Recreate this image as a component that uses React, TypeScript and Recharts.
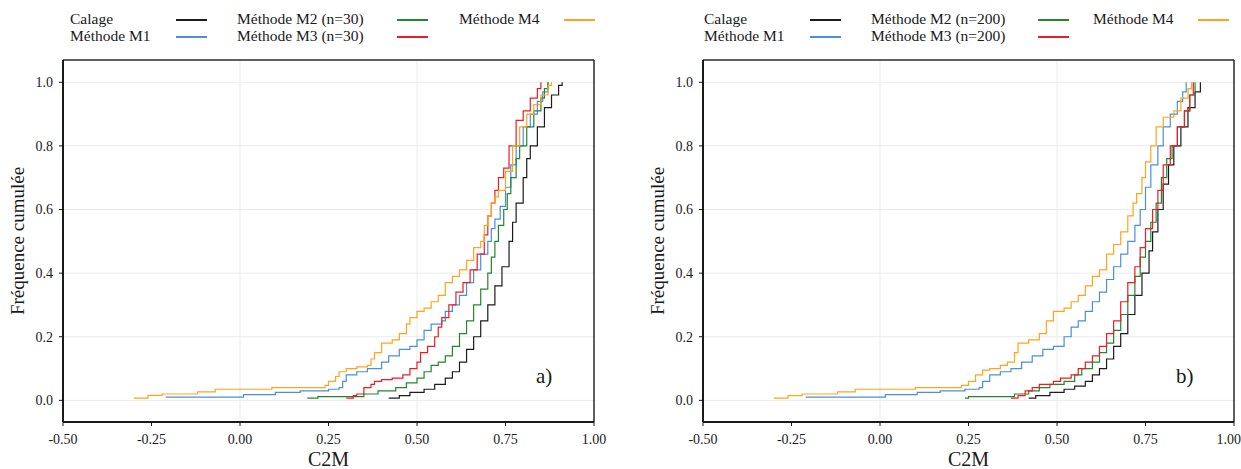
import React from "react";
import { LineChart, Line, XAxis, YAxis, ReferenceLine } from "recharts";

const FONT = "'Liberation Serif', Tinos, 'Nimbus Roman', 'Noto Serif', 'DejaVu Serif', serif";

const X_TICKS = [-0.5, -0.25, 0, 0.25, 0.5, 0.75, 1];
const Y_TICKS = [0, 0.2, 0.4, 0.6, 0.8, 1];
const X_GRID = [0, 0.5];
const X_DOMAIN = [-0.5, 1];
const Y_DOMAIN = [-0.068, 1.07];

// panel a) — n=30
const calageA = [
  [0.42, 0.007], [0.45, 0.015], [0.48, 0.025], [0.52, 0.035], [0.55, 0.05], [0.58, 0.07],
  [0.6, 0.09], [0.62, 0.12], [0.64, 0.16], [0.66, 0.2], [0.68, 0.25], [0.7, 0.3],
  [0.72, 0.36], [0.74, 0.42], [0.76, 0.5], [0.77, 0.56], [0.78, 0.62], [0.8, 0.7],
  [0.81, 0.76], [0.82, 0.8], [0.84, 0.86], [0.86, 0.92], [0.88, 0.96], [0.9, 0.99], [0.91, 1.0],
];
const m1A = [
  [-0.21, 0.01], [0.01, 0.018], [0.1, 0.025], [0.17, 0.03], [0.25, 0.035], [0.28, 0.04],
  [0.29, 0.06], [0.3, 0.08], [0.33, 0.09], [0.36, 0.1], [0.4, 0.12], [0.42, 0.14],
  [0.45, 0.16], [0.48, 0.17], [0.5, 0.19], [0.52, 0.22], [0.54, 0.24], [0.57, 0.25],
  [0.58, 0.28], [0.6, 0.3], [0.62, 0.33], [0.64, 0.37], [0.66, 0.41], [0.68, 0.46],
  [0.7, 0.5], [0.71, 0.54], [0.72, 0.57], [0.735, 0.61], [0.75, 0.67], [0.765, 0.74],
  [0.78, 0.8], [0.8, 0.86], [0.82, 0.9], [0.84, 0.94], [0.855, 0.97], [0.87, 1.0],
];
const m2A = [
  [0.19, 0.007], [0.22, 0.012], [0.35, 0.02], [0.39, 0.03], [0.44, 0.04], [0.47, 0.055],
  [0.5, 0.07], [0.52, 0.09], [0.54, 0.11], [0.56, 0.12], [0.58, 0.14], [0.6, 0.17],
  [0.62, 0.21], [0.64, 0.25], [0.66, 0.3], [0.68, 0.35], [0.7, 0.4], [0.71, 0.45],
  [0.72, 0.5], [0.73, 0.55], [0.745, 0.6], [0.755, 0.65], [0.765, 0.7], [0.78, 0.76],
  [0.79, 0.8], [0.81, 0.86], [0.83, 0.91], [0.85, 0.95], [0.86, 0.98], [0.87, 1.0],
];
const m3A = [
  [0.3, 0.007], [0.32, 0.015], [0.33, 0.02], [0.35, 0.04], [0.37, 0.05], [0.38, 0.06],
  [0.4, 0.065], [0.43, 0.07], [0.46, 0.08], [0.48, 0.1], [0.5, 0.12], [0.51, 0.15],
  [0.53, 0.17], [0.55, 0.2], [0.56, 0.23], [0.57, 0.26], [0.59, 0.3], [0.61, 0.34],
  [0.63, 0.37], [0.65, 0.41], [0.67, 0.46], [0.69, 0.52], [0.7, 0.58], [0.71, 0.62],
  [0.72, 0.66], [0.73, 0.7], [0.745, 0.73], [0.76, 0.8], [0.78, 0.88], [0.8, 0.91],
  [0.82, 0.95], [0.84, 0.98], [0.85, 1.0],
];
const m4A = [
  [-0.3, 0.007], [-0.26, 0.016], [-0.22, 0.02], [-0.12, 0.027], [-0.07, 0.035], [0.09, 0.04],
  [0.24, 0.047], [0.25, 0.06], [0.27, 0.075], [0.28, 0.09], [0.3, 0.1], [0.33, 0.105],
  [0.36, 0.11], [0.37, 0.13], [0.38, 0.15], [0.4, 0.18], [0.43, 0.19], [0.45, 0.21],
  [0.47, 0.24], [0.48, 0.26], [0.5, 0.28], [0.52, 0.29], [0.54, 0.31], [0.56, 0.33],
  [0.58, 0.37], [0.6, 0.39], [0.62, 0.41], [0.64, 0.44], [0.66, 0.48], [0.68, 0.5],
  [0.69, 0.55], [0.7, 0.58], [0.71, 0.62], [0.72, 0.64], [0.73, 0.66], [0.75, 0.72],
  [0.77, 0.8], [0.79, 0.86], [0.81, 0.9], [0.83, 0.93], [0.85, 0.96], [0.87, 0.99], [0.88, 1.0],
];

// panel b) — n=200
const calageB = [
  [0.42, 0.007], [0.44, 0.015], [0.48, 0.025], [0.52, 0.035], [0.55, 0.045], [0.58, 0.06],
  [0.6, 0.08], [0.62, 0.1], [0.64, 0.13], [0.66, 0.17], [0.68, 0.21], [0.7, 0.27],
  [0.72, 0.33], [0.74, 0.4], [0.76, 0.47], [0.77, 0.53], [0.785, 0.6], [0.8, 0.68],
  [0.815, 0.74], [0.83, 0.8], [0.85, 0.86], [0.87, 0.92], [0.89, 0.97], [0.905, 1.0],
];
const m1B = [
  [-0.21, 0.01], [0.015, 0.018], [0.105, 0.025], [0.17, 0.03], [0.24, 0.035], [0.28, 0.04],
  [0.29, 0.06], [0.31, 0.08], [0.34, 0.09], [0.37, 0.1], [0.4, 0.12], [0.43, 0.14],
  [0.46, 0.16], [0.49, 0.17], [0.52, 0.2], [0.54, 0.23], [0.56, 0.25], [0.58, 0.28],
  [0.6, 0.31], [0.62, 0.34], [0.64, 0.38], [0.66, 0.42], [0.68, 0.46], [0.7, 0.5],
  [0.72, 0.55], [0.735, 0.6], [0.75, 0.67], [0.765, 0.74], [0.785, 0.8], [0.8, 0.86],
  [0.82, 0.9], [0.84, 0.94], [0.855, 0.97], [0.865, 1.0],
];
const m2B = [
  [0.24, 0.007], [0.25, 0.012], [0.38, 0.02], [0.42, 0.03], [0.45, 0.04], [0.48, 0.05],
  [0.52, 0.06], [0.55, 0.08], [0.57, 0.1], [0.6, 0.12], [0.62, 0.15], [0.64, 0.18],
  [0.66, 0.22], [0.68, 0.27], [0.7, 0.33], [0.72, 0.39], [0.735, 0.45], [0.75, 0.5],
  [0.765, 0.56], [0.78, 0.62], [0.795, 0.7], [0.81, 0.76], [0.825, 0.8], [0.84, 0.86],
  [0.86, 0.91], [0.875, 0.96], [0.89, 1.0],
];
const m3B = [
  [0.37, 0.007], [0.39, 0.015], [0.41, 0.03], [0.43, 0.04], [0.45, 0.05], [0.49, 0.06],
  [0.51, 0.07], [0.54, 0.08], [0.56, 0.1], [0.58, 0.12], [0.6, 0.14], [0.62, 0.17],
  [0.64, 0.21], [0.66, 0.25], [0.68, 0.31], [0.7, 0.37], [0.72, 0.42], [0.735, 0.48],
  [0.75, 0.54], [0.77, 0.6], [0.785, 0.66], [0.8, 0.74], [0.82, 0.8], [0.84, 0.86],
  [0.86, 0.91], [0.875, 0.96], [0.885, 1.0],
];
const m4B = [
  [-0.3, 0.007], [-0.26, 0.015], [-0.22, 0.02], [-0.12, 0.027], [-0.07, 0.035], [0.1, 0.04],
  [0.23, 0.047], [0.25, 0.06], [0.27, 0.08], [0.29, 0.095], [0.31, 0.1], [0.34, 0.11],
  [0.36, 0.12], [0.38, 0.15], [0.39, 0.18], [0.42, 0.19], [0.45, 0.21], [0.47, 0.25],
  [0.49, 0.28], [0.52, 0.29], [0.54, 0.31], [0.56, 0.33], [0.58, 0.36], [0.6, 0.39],
  [0.62, 0.41], [0.64, 0.46], [0.66, 0.49], [0.68, 0.53], [0.7, 0.58], [0.715, 0.62],
  [0.725, 0.65], [0.74, 0.7], [0.75, 0.75], [0.765, 0.8], [0.78, 0.86], [0.8, 0.89],
  [0.83, 0.91], [0.85, 0.95], [0.87, 0.98], [0.88, 1.0],
];

const COLORS = {
  calage: "#1c1c1c",
  m1: "#4a8fdc",
  m2: "#23862f",
  m3: "#ee1c25",
  m4: "#ffa41c",
};

const toPts = (arr: number[][]) => arr.map(([x, y]) => ({ x, y }));

const GRID = "#ebebeb";
const INK = "#1a1a1a";

function Panel({ series, left, width, tag }: any) {
  return (
    <div style={{ position: "absolute", left, top: 0 }}>
      <LineChart width={width} height={469} margin={{ top: 60, right: width - 594, bottom: 0, left: 0 }}>
        {Y_TICKS.map((v) => (
          <ReferenceLine key={"gy" + v} y={v} stroke={GRID} strokeWidth={1} />
        ))}
        {X_GRID.map((v) => (
          <ReferenceLine key={"gx" + v} x={v} stroke={GRID} strokeWidth={1} />
        ))}
        <XAxis
          type="number"
          dataKey="x"
          domain={X_DOMAIN}
          ticks={X_TICKS}
          allowDataOverflow
          height={47}
          tickSize={4}
          tickMargin={8}
          tickFormatter={(v) => Number(v).toFixed(2)}
          axisLine={{ stroke: INK, strokeWidth: 2 }}
          tickLine={{ stroke: INK }}
          tick={{ fontSize: 14, fill: INK, fontFamily: FONT }}
        />
        <YAxis
          type="number"
          domain={Y_DOMAIN}
          ticks={Y_TICKS}
          allowDataOverflow
          width={63}
          tickSize={4}
          tickMargin={6}
          tickFormatter={(v) => Number(v).toFixed(1)}
          axisLine={{ stroke: INK, strokeWidth: 2 }}
          tickLine={{ stroke: INK }}
          tick={{ fontSize: 14, fill: INK, fontFamily: FONT }}
        />
        <ReferenceLine y={Y_DOMAIN[1]} stroke="#2a2a2a" strokeWidth={1.5} />
        <ReferenceLine x={X_DOMAIN[1]} stroke="#2a2a2a" strokeWidth={1.5} />
        {series.map((s: any) => (
          <Line
            key={s.name}
            data={toPts(s.data)}
            dataKey="y"
            type="stepAfter"
            stroke={s.color}
            strokeWidth={1.2}
            dot={false}
            activeDot={false}
            isAnimationActive={false}
          />
        ))}
      </LineChart>
      <div
        style={{
          position: "absolute",
          left: 536,
          top: 364,
          fontFamily: FONT,
          fontSize: 21,
          color: INK,
        }}
      >
        {tag}
      </div>
      <div
        style={{
          position: "absolute",
          left: 63,
          width: 531,
          top: 448,
          textAlign: "center",
          fontFamily: FONT,
          fontSize: 20,
          color: INK,
        }}
      >
        C2M
      </div>
      <div
        style={{
          position: "absolute",
          left: 18,
          top: 241,
          transform: "translate(-50%, -50%) rotate(-90deg)",
          whiteSpace: "nowrap",
          fontFamily: FONT,
          fontSize: 19,
          color: INK,
        }}
      >
        Fréquence cumulée
      </div>
    </div>
  );
}

function LegendItem({ x, y, label, color, lineX }: any) {
  return (
    <>
      <div
        style={{
          position: "absolute",
          left: x,
          top: y - 10,
          fontFamily: FONT,
          fontSize: 15.5,
          lineHeight: "18px",
          color: INK,
          whiteSpace: "nowrap",
        }}
      >
        {label}
      </div>
      <div style={{ position: "absolute", left: lineX, top: y - 1, width: 31, height: 2, background: color }} />
    </>
  );
}

function Legend({ offset, n }: any) {
  const o = offset;
  const shift = n === 200 ? 7 : 0;
  return (
    <>
      <LegendItem x={o + 70} y={20} label="Calage" color={COLORS.calage} lineX={o + 176} />
      <LegendItem x={o + 70} y={37} label="Méthode M1" color={COLORS.m1} lineX={o + 176} />
      <LegendItem x={o + 237} y={20} label={`Méthode M2 (n=${n})`} color={COLORS.m2} lineX={o + 397 + shift} />
      <LegendItem x={o + 237} y={37} label={`Méthode M3 (n=${n})`} color={COLORS.m3} lineX={o + 397 + shift} />
      <LegendItem x={o + 459} y={20} label="Méthode M4" color={COLORS.m4} lineX={o + 564} />
    </>
  );
}

export default function App() {
  const seriesA = [
    { name: "Calage", data: calageA, color: COLORS.calage },
    { name: "M1", data: m1A, color: COLORS.m1 },
    { name: "M2", data: m2A, color: COLORS.m2 },
    { name: "M3", data: m3A, color: COLORS.m3 },
    { name: "M4", data: m4A, color: COLORS.m4 },
  ];
  const seriesB = [
    { name: "Calage", data: calageB, color: COLORS.calage },
    { name: "M1", data: m1B, color: COLORS.m1 },
    { name: "M2", data: m2B, color: COLORS.m2 },
    { name: "M3", data: m3B, color: COLORS.m3 },
    { name: "M4", data: m4B, color: COLORS.m4 },
  ];
  return (
    <div style={{ position: "absolute", left: 0, top: 0, width: 1241, height: 469, background: "#fff", overflow: "hidden", fontFamily: FONT }}>
      <Legend offset={0} n={30} />
      <Legend offset={634} n={200} />
      <Panel series={seriesA} left={0} width={620} tag="a)" />
      <Panel series={seriesB} left={640} width={601} tag="b)" />
    </div>
  );
}
